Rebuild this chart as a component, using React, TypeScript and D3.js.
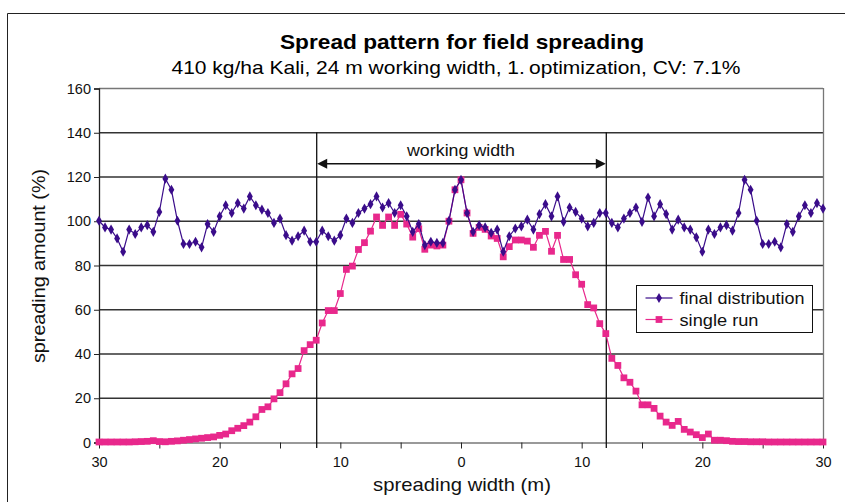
import React, { Component } from 'react'
import * as d3 from 'd3'

// spreading width positions (m), one sample every 0.5 m
const positions = d3.range(-30, 30.001, 0.5)

const finalDistribution = [
  100, 97, 96, 92, 86, 96, 94, 97, 98, 95, 104, 119, 114, 100, 89.5, 89.5, 90.5, 88, 98.5, 95,
  102, 107, 103.5, 108, 105.5, 111, 107, 105, 103.5, 99,
  101, 93.5, 91, 93, 95.5, 90.5, 90.5, 95.5, 93, 91, 93.5, 101, 99, 103.5, 105.5, 107.5, 111, 106,
  108, 103.5, 107, 102, 95, 98.5, 89, 90.5, 90, 90,
  100, 114, 118.5, 103.5, 95,
  98, 97, 94.5, 96, 86, 93, 96.5, 97.5, 100.5, 96, 103, 107.5, 102, 111, 99.5, 106, 104, 101,
  97.5, 99, 103.5, 103.5, 99, 97, 101, 103.5, 106,
  99.5, 110.5, 102, 107.5, 103, 96, 100.5, 97, 96, 92.5, 86, 96, 94, 97, 98, 95.5, 103.5, 118.5,
  114, 100, 89.5, 89.5, 90.5, 88, 98.5, 95, 102, 107, 103.5, 108, 105.5
]

const singleRun = [
  0, 0, 0, 0, 0, 0, 0.1, 0.2, 0.3, 0.6, 0.2, 0.1, 0.3,
  0.5, 0.8, 1.1, 1.4, 1.7, 2, 2.3, 3, 3.6, 5.1, 6.2, 7.4, 9, 11.4, 14.7, 15.9, 19.5, 22.3, 26.3,
  30.8, 33.2, 41.3, 44, 46,
  53.8, 59.4, 59.4, 67.1, 78, 79.5, 87, 90.1, 95.3, 101.7, 97.9, 101.7, 97.9, 102.9, 98.5, 92.6,
  96.4, 87.1, 89, 88.6, 89, 99.8, 114, 118.5,
  103.5, 94.3, 97, 96.1, 93.1, 92, 83.7, 88.3, 91.3, 91.3, 90.8, 88, 93.4, 95.2, 86.2, 93.4, 82.5,
  82.5, 75.6, 71.3, 62.1, 60.6, 53.5, 49, 37.8, 34.6,
  29, 27, 23, 16.8, 16.8, 15.2, 11.7, 9, 7.5, 9.3, 5.7, 4.5, 3.3, 2, 3.6, 0.8, 0.8, 0.6, 0.3, 0.2,
  0.2, 0.1, 0.1, 0.1, 0, 0, 0, 0, 0, 0, 0, 0, 0, 0
]

const yTicks = [0, 20, 40, 60, 80, 100, 120, 140, 160]
const xTicks = [-30, -25, -20, -15, -10, -5, 0, 5, 10, 15, 20, 25, 30]
const xLabelTicks = [-30, -20, -10, 0, 10, 20, 30]
const workingWidth = [-12, 12]
const seriesNames = ['final distribution', 'single run']

const purple = '#3a0c8a'
const pink = '#e8288c'
const font = 'Liberation Sans, Arial, Helvetica, sans-serif'

class App extends Component {
  svgRef = React.createRef<SVGSVGElement>()

  componentDidMount() {
    this.drawChart()
  }

  drawChart() {
    document.body.style.margin = '0'
    const svg = d3.select(this.svgRef.current)
    svg.selectAll('*').remove()

    const left = 99, right = 823, top = 88, bottom = 442

    const x = d3.scaleLinear().domain([-30, 30]).range([left, right])
    const y = d3.scaleLinear().domain([0, 160]).range([bottom, top])

    svg.append('rect').attr('width', 845).attr('height', 502).attr('fill', '#fff')

    // outer frame
    svg.append('path')
      .attr('d', 'M7.5,502 L7.5,13.5 L845,13.5')
      .attr('fill', 'none').attr('stroke', '#222').attr('stroke-width', 1)

    // titles
    svg.append('text')
      .attr('x', 462).attr('y', 49)
      .attr('text-anchor', 'middle')
      .attr('textLength', 364).attr('lengthAdjust', 'spacingAndGlyphs')
      .style('font-family', font).style('font-weight', 'bold').style('font-size', '21px')
      .text('Spread pattern for field spreading')
    svg.append('text')
      .attr('x', 456).attr('y', 74)
      .attr('text-anchor', 'middle')
      .attr('textLength', 569).attr('lengthAdjust', 'spacingAndGlyphs')
      .style('font-family', font).style('font-size', '19px')
      .text('410 kg/ha Kali, 24 m working width, 1.\u2009optimization, CV: 7.1%')

    // horizontal grid lines
    svg.append('g').selectAll('line')
      .data(yTicks.filter(d => d > 0))
      .enter().append('line')
      .attr('x1', left).attr('x2', right)
      .attr('y1', d => y(d) + 0.5).attr('y2', d => y(d) + 0.5)
      .attr('stroke', d => d === 160 ? '#777' : '#333')
      .attr('stroke-width', 1.3)

    // right border
    svg.append('line')
      .attr('x1', right + 0.5).attr('x2', right + 0.5)
      .attr('y1', top).attr('y2', bottom)
      .attr('stroke', '#777').attr('stroke-width', 1.3)

    // y axis
    const yAxis = d3.axisLeft(y).tickValues(yTicks).tickSize(5).tickPadding(3)
    const gy = svg.append('g')
      .attr('transform', `translate(${left},0.5)`)
      .call(yAxis)
    gy.select('.domain').attr('stroke', '#222').attr('stroke-width', 1.3)
    gy.selectAll('.tick line').attr('stroke', '#222')
    gy.selectAll('.tick text')
      .style('font-family', font).style('font-size', '14.5px').attr('fill', '#111')

    // x axis
    const xAxis = d3.axisBottom(x).tickValues(xTicks).tickSize(6).tickSizeOuter(0)
      .tickFormat(d => xLabelTicks.includes(+d) ? String(Math.abs(+d)) : '')
    const gx = svg.append('g')
      .attr('transform', `translate(0,${bottom + 0.5})`)
      .call(xAxis)
    gx.select('.domain').attr('stroke', '#777').attr('stroke-width', 1.3)
    gx.selectAll('.tick line').attr('stroke', '#222')
    gx.selectAll('.tick text')
      .attr('dy', '1.1em')
      .style('font-family', font).style('font-size', '14.5px').attr('fill', '#111')

    // working width lines
    svg.append('g').selectAll('line')
      .data(workingWidth)
      .enter().append('line')
      .attr('x1', d => x(d) + 0.5).attr('x2', d => x(d) + 0.5)
      .attr('y1', y(140)).attr('y2', bottom + 6)
      .attr('stroke', '#111').attr('stroke-width', 1.3)

    // working width arrow
    const ay = y(126) + 0.5
    svg.append('line')
      .attr('x1', x(-12) + 8).attr('x2', x(12) - 8)
      .attr('y1', ay).attr('y2', ay)
      .attr('stroke', '#111').attr('stroke-width', 1.3)
    svg.append('path')
      .attr('d', `M${x(-12) + 1},${ay} l10,-5 l0,10 z`)
      .attr('fill', '#111')
    svg.append('path')
      .attr('d', `M${x(12)},${ay} l-10,-5 l0,10 z`)
      .attr('fill', '#111')
    svg.append('text')
      .attr('x', 461).attr('y', y(126) - 7)
      .attr('text-anchor', 'middle')
      .attr('textLength', 108).attr('lengthAdjust', 'spacingAndGlyphs')
      .style('font-family', font).style('font-size', '16.5px').attr('fill', '#111')
      .text('working width')

    const line = d3.line<number>()
      .x((d, i) => x(positions[i]))
      .y(d => y(d))

    // single run
    svg.append('path')
      .datum(singleRun)
      .attr('d', line)
      .attr('fill', 'none').attr('stroke', pink).attr('stroke-width', 1.2)
    const square = d3.symbol().type(d3.symbolSquare).size(46)
    svg.append('g').selectAll('path')
      .data(singleRun)
      .enter().append('path')
      .attr('d', square)
      .attr('transform', (d, i) => `translate(${x(positions[i])},${y(d)})`)
      .attr('fill', pink)

    // final distribution
    svg.append('path')
      .datum(finalDistribution)
      .attr('d', line)
      .attr('fill', 'none').attr('stroke', purple).attr('stroke-width', 1.2)
    const diamond = d3.symbol().type(d3.symbolDiamond).size(30)
    svg.append('g').selectAll('path')
      .data(finalDistribution)
      .enter().append('path')
      .attr('d', diamond)
      .attr('transform', (d, i) => `translate(${x(positions[i])},${y(d)})`)
      .attr('fill', purple)

    // legend
    const lg = svg.append('g').attr('transform', 'translate(636.5,285.5)')
    lg.append('rect')
      .attr('width', 176).attr('height', 47)
      .attr('fill', '#fff').attr('stroke', '#111').attr('stroke-width', 1)
    const colors = [purple, pink]
    const symbols = [diamond, square]
    const legendWidths = [125, 79]
    seriesNames.forEach((name, i) => {
      const ly = 12.5 + i * 21.5
      lg.append('line')
        .attr('x1', 9).attr('x2', 36).attr('y1', ly).attr('y2', ly)
        .attr('stroke', colors[i]).attr('stroke-width', 1.2)
      lg.append('path')
        .attr('d', symbols[i])
        .attr('transform', `translate(22.5,${ly})`)
        .attr('fill', colors[i])
      lg.append('text')
        .attr('x', 43).attr('y', ly + 6)
        .attr('textLength', legendWidths[i]).attr('lengthAdjust', 'spacingAndGlyphs')
        .style('font-family', font).style('font-size', '17px').attr('fill', '#111')
        .text(name)
    })

    // axis titles
    svg.append('text')
      .attr('transform', 'rotate(-90)')
      .attr('x', -266).attr('y', 45)
      .attr('text-anchor', 'middle')
      .attr('textLength', 194).attr('lengthAdjust', 'spacingAndGlyphs')
      .style('font-family', font).style('font-size', '19px').attr('fill', '#111')
      .text('spreading amount (%)')
    svg.append('text')
      .attr('x', 462).attr('y', 491)
      .attr('text-anchor', 'middle')
      .attr('textLength', 178).attr('lengthAdjust', 'spacingAndGlyphs')
      .style('font-family', font).style('font-size', '19px').attr('fill', '#111')
      .text('spreading width (m)')
  }

  render() {
    return <svg ref={this.svgRef} width={845} height={502} style={{ display: 'block' }}></svg>
  }
}

export default App
